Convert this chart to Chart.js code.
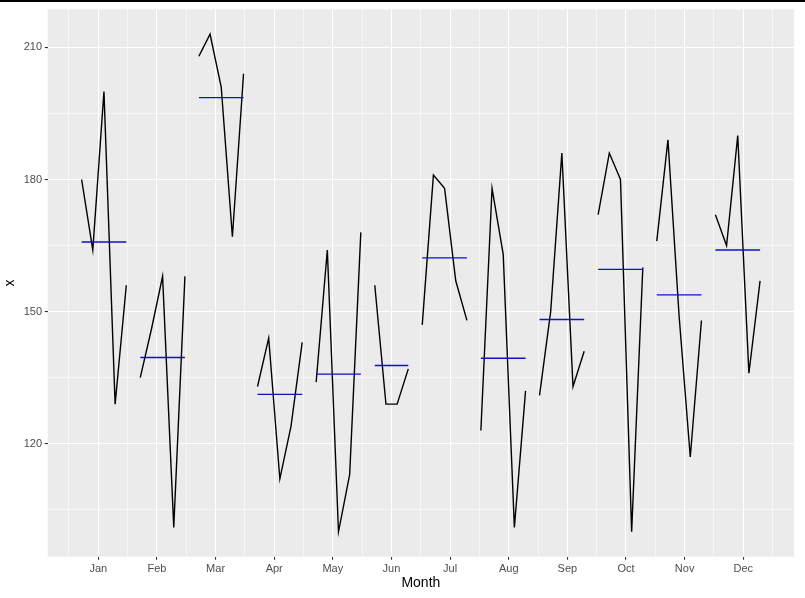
<!DOCTYPE html>
<html>
<head>
<meta charset="utf-8">
<script src="https://cdn.jsdelivr.net/npm/chart.js@4"></script>
<style>
  html, body { margin: 0; padding: 0; background: #ffffff; }
  #wrap { width: 805px; height: 598px; position: relative; }
  canvas { display: block; }
</style>
</head>
<body>
<div id="wrap"><canvas id="c" width="805" height="598"></canvas></div>
<script>
// ---- data ----
const monthLabels = ['Jan','Feb','Mar','Apr','May','Jun','Jul','Aug','Sep','Oct','Nov','Dec'];
const janValues = [180, 164, 200, 129, 156];
const febValues = [135, 146, 158, 101, 158];
const marValues = [208, 213, 201, 167, 204];
const aprValues = [133, 144, 112, 124, 143];
const mayValues = [134, 164, 100, 113, 168];
const junValues = [156, 129, 129, 137];
const julValues = [147, 181, 178, 157, 148];
const augValues = [123, 178, 163, 101, 132];
const sepValues = [131, 150, 186, 133, 141];
const octValues = [172, 186, 180, 100, 160];
const novValues = [166, 189, 149, 117, 148];
const decValues = [172, 165, 190, 136, 157];
const seriesStartMonth = 7;   // series begins in July
const yearsSpanned = 6;
const yMajorTicks = [120, 150, 180, 210];
const yMinorTicks = [105, 135, 165, 195];

const monthValues = [janValues, febValues, marValues, aprValues, mayValues, junValues,
                     julValues, augValues, sepValues, octValues, novValues, decValues];

// ---- build subseries positions (as in forecast::ggsubseriesplot) ----
const seasonWidth = (yearsSpanned - 1) * 1.05;
const datasets = [];
let allX = [], allY = [];
monthValues.forEach((vals, i) => {
  const m = i + 1;
  const firstYear = m < seriesStartMonth ? 1 : 0;
  const pts = vals.map((v, j) => ({ x: m + 0.025 + (firstYear + j) / seasonWidth, y: v }));
  const avg = vals.reduce((a, b) => a + b, 0) / vals.length;
  pts.forEach(p => { allX.push(p.x); allY.push(p.y); });
  datasets.push({
    data: pts, borderColor: '#000000', borderWidth: 1.4, pointRadius: 0,
    tension: 0, order: 2, fill: false
  });
  datasets.push({
    data: [{ x: pts[0].x, y: avg }, { x: pts[pts.length - 1].x, y: avg }],
    borderColor: '#1010c8', borderWidth: 1.4, pointRadius: 0,
    tension: 0, order: 1, fill: false
  });
});
const xLo = Math.min(...allX), xHi = Math.max(...allX);
const yLo = Math.min(...allY), yHi = Math.max(...allY);
const xPad = (xHi - xLo) * 0.05, yPad = (yHi - yLo) * 0.05;

const xMajor = monthLabels.map((_, i) => i + 1.5);
const xMinor = [];
for (let k = 1; k <= 13; k++) xMinor.push(k);

const isMajorX = v => Math.abs((v % 1) - 0.5) < 1e-6;
const isMajorY = v => yMajorTicks.includes(v);

const panelPlugin = {
  id: 'panel',
  beforeDraw(chart) {
    const { ctx, chartArea: a } = chart;
    ctx.save();
    ctx.fillStyle = '#EBEBEB';
    ctx.fillRect(a.left, a.top, a.right - a.left, a.bottom - a.top);
    ctx.restore();
  },
  afterDraw(chart) {
    const { ctx } = chart;
    ctx.save();
    ctx.fillStyle = '#000000';
    ctx.fillRect(0, 0, 805, 2);
    ctx.restore();
  }
};

new Chart(document.getElementById('c'), {
  type: 'line',
  data: { datasets },
  plugins: [panelPlugin],
  options: {
    responsive: false,
    devicePixelRatio: 1,
    animation: false,
    events: [],
    layout: { padding: { top: 7.3, right: 11, left: 0, bottom: 0 } },
    plugins: { legend: { display: false }, tooltip: { enabled: false } },
    scales: {
      x: {
        type: 'linear',
        min: xLo - xPad,
        max: xHi + xPad,
        afterBuildTicks(scale) {
          scale.ticks = xMinor.concat(xMajor).sort((a, b) => a - b).map(v => ({ value: v }));
        },
        afterFit(scale) { scale.height = 41.3; },
        border: { display: false },
        grid: {
          color: '#FFFFFF',
          lineWidth: c => (c.tick && isMajorX(c.tick.value)) ? 1.1 : 0.55,
          drawTicks: true,
          tickLength: 3,
          tickWidth: 1.1,
          tickColor: c => (c.tick && isMajorX(c.tick.value)) ? '#333333' : 'rgba(0,0,0,0)'
        },
        ticks: {
          autoSkip: false,
          maxRotation: 0,
          padding: 2.4,
          color: '#4D4D4D',
          font: { family: '"Liberation Sans", Arial, sans-serif', size: 11 },
          callback: v => isMajorX(v) ? monthLabels[Math.round(v - 1.5)] : ''
        },
        title: {
          display: true,
          text: 'Month',
          color: '#000000',
          font: { family: '"Liberation Sans", Arial, sans-serif', size: 14 },
          padding: { top: 0, bottom: 6.6 }
        }
      },
      y: {
        type: 'linear',
        min: yLo - yPad,
        max: yHi + yPad,
        afterBuildTicks(scale) {
          scale.ticks = yMinorTicks.concat(yMajorTicks).sort((a, b) => a - b).map(v => ({ value: v }));
        },
        afterFit(scale) { scale.width = 47.7; },
        border: { display: false },
        grid: {
          color: '#FFFFFF',
          lineWidth: c => (c.tick && isMajorY(c.tick.value)) ? 1.1 : 0.55,
          drawTicks: true,
          tickLength: 3,
          tickWidth: 1.1,
          tickColor: c => (c.tick && isMajorY(c.tick.value)) ? '#333333' : 'rgba(0,0,0,0)'
        },
        ticks: {
          autoSkip: false,
          padding: 2.7,
          color: '#4D4D4D',
          font: { family: '"Liberation Sans", Arial, sans-serif', size: 11 },
          callback: v => isMajorY(v) ? String(v) : ''
        },
        title: {
          display: true,
          text: 'x',
          color: '#000000',
          font: { family: '"Liberation Sans", Arial, sans-serif', size: 14 },
          padding: { top: 1.5, bottom: 0 }
        }
      }
    }
  }
});
</script>
</body>
</html>
